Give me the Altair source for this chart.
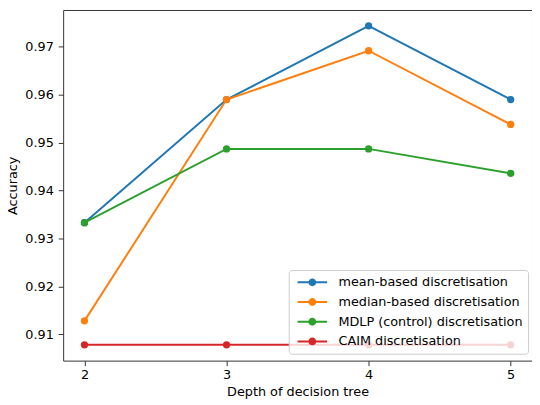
import altair as alt
import pandas as pd

depths = [2, 3, 4, 5]
series_names = [
    "mean-based discretisation",
    "median-based discretisation",
    "MDLP (control) discretisation",
    "CAIM discretisation",
]
mean_vals = [0.9333, 0.9590, 0.9744, 0.9590]
median_vals = [0.9128, 0.9590, 0.9692, 0.9538]
mdlp_vals = [0.9333, 0.9487, 0.9487, 0.9436]
caim_vals = [0.9078, 0.9078, 0.9078, 0.9078]
colors = ["#1f77b4", "#ff7f0e", "#2ca02c", "#d62728"]

all_vals = [mean_vals, median_vals, mdlp_vals, caim_vals]
rows = []
for name, vals in zip(series_names, all_vals):
    for d, v in zip(depths, vals):
        rows.append({"depth": d, "acc": v, "series": name})
df = pd.DataFrame(rows)

xscale = alt.Scale(domain=[1.85, 5.15], nice=False, zero=False)
yscale = alt.Scale(domain=[0.9045, 0.9777], nice=False, zero=False)
cscale = alt.Scale(domain=series_names, range=colors)

# line with a marker in the middle; unit box scaled by sqrt(symbolSize)/2
legend_symbol = (
    "M-2,-0.133 L2,-0.133 L2,0.133 L-2,0.133 Z "
    "M0.53,0 A0.53,0.53 0 1 1 -0.53,0 A0.53,0.53 0 1 1 0.53,0 Z"
)

layers = []
for i, name in enumerate(series_names):
    base = alt.Chart(df).transform_filter(alt.datum.series == name).encode(
        x=alt.X("depth:Q", scale=xscale,
                axis=alt.Axis(values=depths, format="d", title="Depth of decision tree")),
        y=alt.Y("acc:Q", scale=yscale,
                axis=alt.Axis(values=[0.91, 0.92, 0.93, 0.94, 0.95, 0.96, 0.97],
                              format=".2f", title="Accuracy")),
        color=alt.Color("series:N", scale=cscale, sort=series_names,
                        legend=alt.Legend(
                            title=None, orient="none",
                            legendX=229, legendY=264,
                            symbolType=legend_symbol, symbolSize=225,
                            symbolStrokeWidth=0, symbolOpacity=1,
                            symbolOffset=11.5,
                            labelOffset=19, labelFontSize=13,
                            labelLimit=400,
                            labelFont="DejaVu Sans", labelColor="#000",
                            rowPadding=5,
                            padding=5,
                            strokeColor="#cccccc",
                            fillColor="rgba(255,255,255,0.8)",
                            cornerRadius=3,
                        )),
    )
    layers.append(base.mark_line(strokeWidth=2))
    layers.append(base.mark_circle(size=55, opacity=1))

chart = alt.layer(*layers).properties(
    width=476, height=356,
    autosize=alt.AutoSizeParams(type="none"),
    padding={"left": 56, "top": -1, "right": 0, "bottom": 40},
).configure_view(
    stroke="#333", strokeWidth=1
).configure_axis(
    grid=False, domain=False,
    tickColor="#333", tickSize=5, tickWidth=1,
    labelFont="DejaVu Sans", labelFontSize=13, labelColor="#000",
    titleFont="DejaVu Sans", titleFontSize=13, titleFontWeight="normal",
    titleColor="#000",
).configure_axisY(labelPadding=5, titlePadding=5).configure_axisX(
    labelPadding=3, titlePadding=4)

chart.save("out.html", embed_options={"renderer": "svg", "actions": False})
